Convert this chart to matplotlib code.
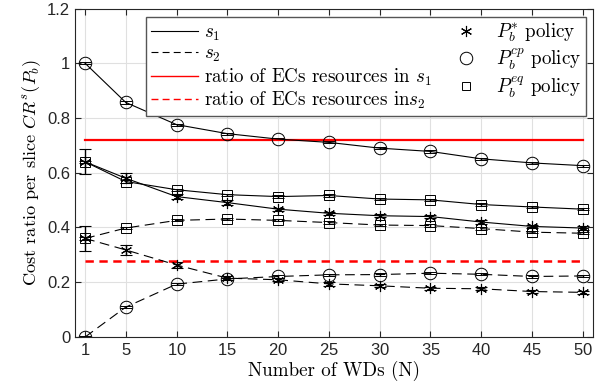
import numpy as np
import matplotlib
matplotlib.use("Agg")
import matplotlib.pyplot as plt
from matplotlib.lines import Line2D

# %% data
n_wds = [1, 5, 10, 15, 20, 25, 30, 35, 40, 45, 50]
x_ticks = [1, 5, 10, 15, 20, 25, 30, 35, 40, 45, 50]

s1_opt = [0.640, 0.580, 0.513, 0.491, 0.467, 0.452, 0.443, 0.440, 0.420, 0.404, 0.398]
s1_cp  = [1.000, 0.857, 0.776, 0.743, 0.723, 0.711, 0.690, 0.678, 0.651, 0.636, 0.626]
s1_eq  = [0.640, 0.568, 0.538, 0.520, 0.513, 0.517, 0.504, 0.501, 0.484, 0.475, 0.467]

s2_opt = [0.360, 0.318, 0.263, 0.215, 0.209, 0.194, 0.187, 0.178, 0.176, 0.166, 0.163]
s2_cp  = [0.000, 0.109, 0.193, 0.212, 0.221, 0.227, 0.228, 0.233, 0.229, 0.221, 0.223]
s2_eq  = [0.360, 0.398, 0.426, 0.431, 0.426, 0.418, 0.409, 0.407, 0.396, 0.383, 0.379]

opt_err = [0.046, 0.018, 0.010, 0.008, 0.006, 0.006, 0.006, 0.006, 0.006, 0.006, 0.006]
small_err = [0.004] * 11

ec_ratio_s1 = 0.721
ec_ratio_s2 = 0.278

# %% style
plt.rcParams['mathtext.fontset'] = 'cm'
plt.rcParams['axes.formatter.use_mathtext'] = True
plt.rcParams['lines.scale_dashes'] = False
serif = 'cmr10'
dash = (7, 4)

fig = plt.figure(figsize=(5.98, 3.90), dpi=100)
ax = fig.add_axes([0.1254, 0.136, 0.866, 0.842])

asterisk = (6, 2, 0)
mk_opt = dict(marker=asterisk, markersize=8, markerfacecolor='none', markeredgecolor='k', markeredgewidth=0.8)
mk_cp = dict(marker='o', markersize=9, markerfacecolor='none', markeredgecolor='k', markeredgewidth=0.7)
mk_eq = dict(marker='s', markersize=7.5, markerfacecolor='none', markeredgecolor='k', markeredgewidth=0.7)
eb = dict(capsize=4.5, elinewidth=1.0, capthick=1.0, ecolor='k')

# s1 (solid)
ax.errorbar(n_wds, s1_opt, yerr=opt_err, color='k', lw=0.8, **mk_opt, **eb)
ax.errorbar(n_wds, s1_cp, yerr=small_err, color='k', lw=0.8, **mk_cp, **eb)
ax.errorbar(n_wds, s1_eq, yerr=small_err, color='k', lw=0.8, **mk_eq, **eb)
# s2 (dashed)
for ys, m, er in [(s2_opt, mk_opt, opt_err), (s2_cp, mk_cp, small_err), (s2_eq, mk_eq, small_err)]:
    cont = ax.errorbar(n_wds, ys, yerr=er, color='k', lw=0.8, **m, **eb)
    cont.lines[0].set_dashes(dash)

# EC resource ratios
ax.plot([n_wds[0], n_wds[-1]], [ec_ratio_s1] * 2, color='#ff0000', lw=1.6)
ax.plot([n_wds[0], n_wds[-1]], [ec_ratio_s2] * 2, color='#ff0000', lw=1.8, dashes=(6, 4))

ax.set_xlim(0, 51)
ax.set_ylim(0, 1.2)
ax.set_xticks(x_ticks)
ax.set_yticks([0, 0.2, 0.4, 0.6, 0.8, 1.0, 1.2])
ax.set_yticklabels(['0', '0.2', '0.4', '0.6', '0.8', '1', '1.2'])
ax.tick_params(direction='in', top=True, right=True, labelsize=12, length=4, colors='#262626')
for lab in ax.get_xticklabels() + ax.get_yticklabels():
    lab.set_family('Liberation Sans')
ax.grid(True, color='#e0e0e0', lw=0.8)
ax.set_axisbelow(True)
for sp in ax.spines.values():
    sp.set_color('#262626')
    sp.set_linewidth(0.8)

ax.set_xlabel('Number of WDs (N)', fontsize=13.7, family=serif, labelpad=2)
ax.set_ylabel('Cost ratio per slice $CR^s(P_b)$', fontsize=13.2, family=serif, labelpad=3)

# legend
handles = [
    Line2D([], [], color='k', lw=0.8),
    Line2D([], [], color='k', lw=0.8, dashes=(5, 3)),
    Line2D([], [], color='#ff0000', lw=1.0),
    Line2D([], [], color='#ff0000', lw=1.0, dashes=(5, 3)),
    Line2D([], [], ls='none', **mk_opt),
    Line2D([], [], ls='none', **mk_cp),
    Line2D([], [], ls='none', **dict(mk_eq, markersize=6)),
]
labels = ['$s_1$', '$s_2$', 'ratio of ECs resources in $s_1$', 'ratio of ECs resources in$s_2$',
          '$P_b^{*}$ policy', '$P_b^{cp}$ policy', '$P_b^{eq}$ policy']
leg = ax.legend(handles, labels, ncol=2, loc='upper right', bbox_to_anchor=(0.986, 0.975),
                prop={'family': serif, 'size': 13.7}, fancybox=False, framealpha=1,
                edgecolor='#555555', borderpad=0.25, labelspacing=0.12, handlelength=2.5,
                handletextpad=0.3, columnspacing=0.55, borderaxespad=0)
leg.get_frame().set_linewidth(1.0)

fig.savefig('out.png', dpi=100)
